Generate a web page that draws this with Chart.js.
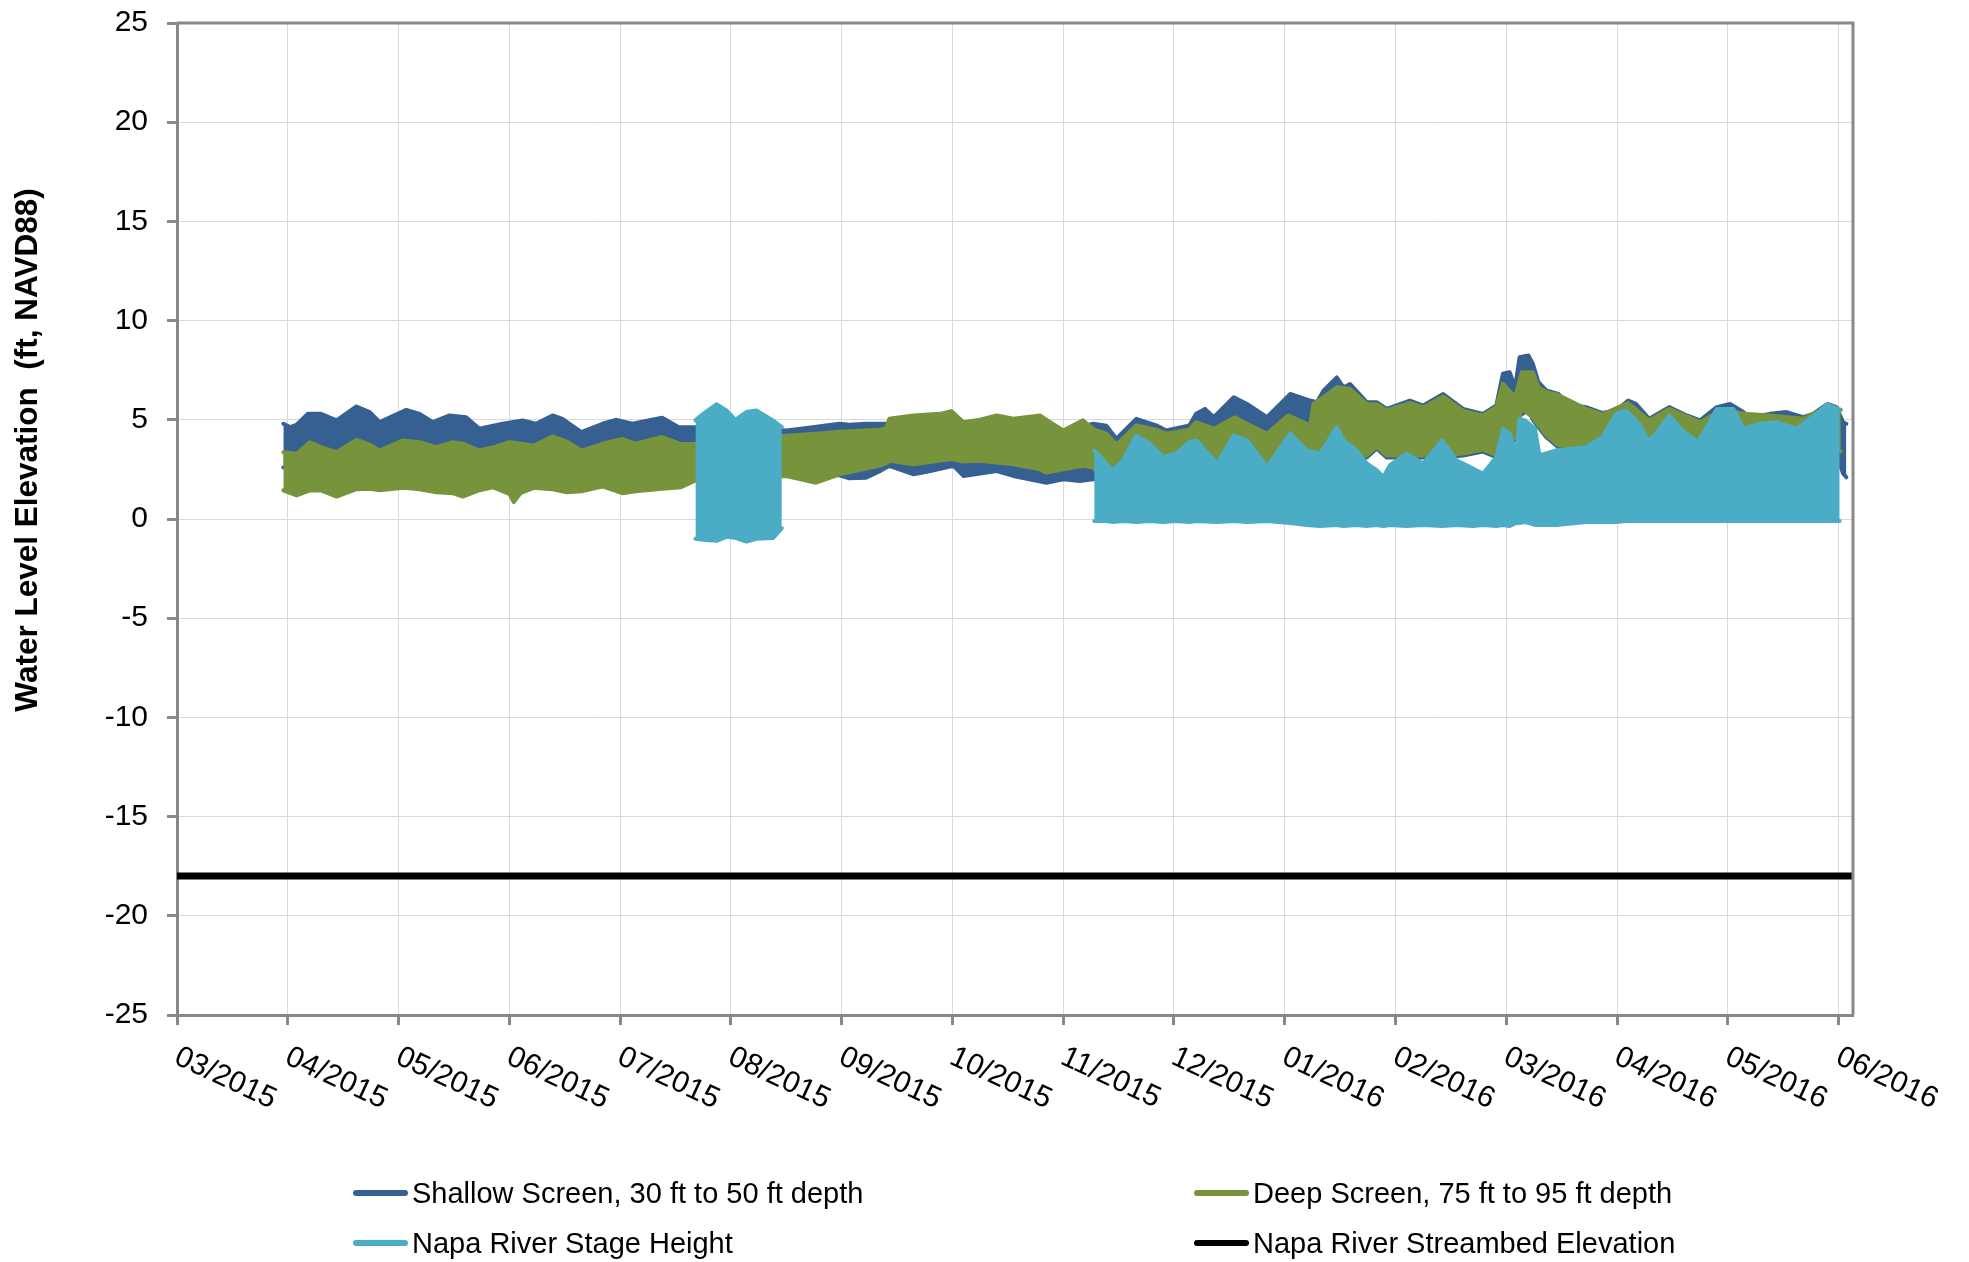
<!DOCTYPE html>
<html>
<head>
<meta charset="utf-8">
<script src="https://cdn.jsdelivr.net/npm/chart.js@4.4.0/dist/chart.umd.min.js"></script>
<style>
  body { margin: 0; background: #fff; }
  #wrap { position: relative; width: 1969px; height: 1262px; font-family: 'Liberation Sans', Arial, sans-serif; }
  .item { position: absolute; font-size: 29px; line-height: 34px; color: #000; white-space: nowrap; }
  .swatch { display: inline-block; width: 55px; height: 6px; border-radius: 3px; vertical-align: middle; margin-right: 4px; position: relative; top: -2px; }
</style>
</head>
<body>
<div id="wrap">
  <canvas id="chart"></canvas>
  <div id="legend"></div>
</div>
<script>
// x values are months counted from 03/2015 (0 = 03/2015, 15 = 06/2016)
const monthLabels = ['03/2015', '04/2015', '05/2015', '06/2015', '07/2015', '08/2015', '09/2015', '10/2015',
  '11/2015', '12/2015', '01/2016', '02/2016', '03/2016', '04/2016', '05/2016', '06/2016'];
const xMax = 15.13;
const yMin = -25, yMax = 25, yStep = 5;
const yTitle = 'Water Level Elevation  (ft, NAVD88)';

// Shallow screen: upper / lower edge of the tidal band
const shallowX = [
  0.96, 1.02, 1.08, 1.18, 1.30, 1.44, 1.62, 1.74, 1.83, 2.07,
  2.19, 2.31, 2.46, 2.61, 2.73, 2.94, 3.12, 3.24, 3.39, 3.48,
  3.65, 3.84, 3.96, 4.11, 4.38, 4.53, 4.68, 5.00, 5.50, 5.74,
  5.98, 6.07, 6.22, 6.34, 6.43, 6.65, 6.80, 7.01, 7.10, 7.40,
  7.55, 7.85, 8.00, 8.15, 8.27, 8.39, 8.48, 8.66, 8.84, 8.93,
  9.14, 9.20, 9.28, 9.36, 9.54, 9.66, 9.84, 10.05, 10.23, 10.29,
  10.35, 10.47, 10.53, 10.59, 10.74, 10.83, 10.92, 11.13, 11.25, 11.43,
  11.61, 11.79, 11.91, 11.97, 12.03, 12.08, 12.12, 12.20, 12.24, 12.29,
  12.36, 12.47, 12.54, 12.72, 12.87, 12.99, 13.10, 13.17, 13.29, 13.47,
  13.63, 13.75, 13.90, 14.02, 14.14, 14.20, 14.38, 14.53, 14.68, 14.77,
  14.90, 14.98, 15.04, 15.07];
const shallowHigh = [
  4.80, 4.63, 4.75, 5.30, 5.30, 4.97, 5.67, 5.39, 4.88, 5.50,
  5.30, 4.88, 5.22, 5.13, 4.55, 4.80, 4.97, 4.80, 5.22, 5.05,
  4.38, 4.80, 5.00, 4.80, 5.10, 4.63, 4.63, 4.60, 4.46, 4.63,
  4.80, 4.75, 4.80, 4.80, 4.80, 4.90, 4.90, 5.00, 4.70, 4.90,
  4.80, 4.70, 4.30, 4.60, 4.80, 4.70, 4.05, 5.05, 4.72, 4.46,
  4.72, 5.30, 5.55, 5.13, 6.14, 5.80, 5.13, 6.30, 5.97, 5.89,
  6.47, 7.14, 6.64, 6.80, 5.89, 5.89, 5.55, 5.97, 5.72, 6.30,
  5.55, 5.30, 5.72, 7.32, 7.40, 6.64, 8.15, 8.24, 7.82, 6.90,
  6.48, 6.31, 5.80, 5.64, 5.34, 5.47, 5.97, 5.80, 5.05, 5.64,
  5.22, 4.97, 5.64, 5.80, 5.39, 5.13, 5.30, 5.39, 5.13, 5.30,
  5.80, 5.64, 4.88, 4.80];
const shallowLow = [
  2.60, 2.60, 2.70, 2.80, 2.80, 2.60, 2.90, 2.90, 2.70, 2.90,
  2.90, 2.70, 2.90, 2.80, 2.60, 2.70, 2.80, 2.70, 3.00, 2.90,
  2.60, 2.80, 2.90, 2.80, 2.90, 2.70, 2.70, 2.60, 2.40, 2.20,
  2.20, 2.05, 2.08, 2.40, 2.68, 2.25, 2.42, 2.68, 2.17, 2.42,
  2.17, 1.83, 2.00, 1.92, 2.00, 2.30, 2.40, 2.50, 2.50, 2.50,
  2.50, 2.50, 2.50, 2.50, 2.50, 2.50, 2.50, 2.60, 2.60, 3.10,
  3.10, 3.20, 3.20, 3.20, 3.10, 3.55, 3.10, 3.10, 3.10, 3.10,
  3.20, 3.40, 3.12, 4.00, 4.20, 3.96, 5.20, 5.50, 5.00, 4.63,
  4.13, 3.62, 3.50, 3.46, 3.30, 3.30, 3.30, 3.30, 3.30, 3.30,
  3.30, 3.30, 3.30, 3.30, 3.30, 3.30, 3.30, 3.30, 3.30, 3.30,
  3.30, 3.30, 2.30, 2.10];

// Deep screen
const deepX = [
  0.96, 1.08, 1.20, 1.30, 1.44, 1.62, 1.74, 1.83, 2.04, 2.19,
  2.34, 2.49, 2.58, 2.73, 2.85, 3.00, 3.04, 3.10, 3.22, 3.39,
  3.52, 3.65, 3.84, 4.02, 4.14, 4.38, 4.55, 4.68, 5.00, 5.50,
  5.77, 5.98, 6.34, 6.40, 6.43, 6.65, 6.89, 6.99, 7.10, 7.25,
  7.40, 7.55, 7.79, 7.85, 8.00, 8.18, 8.27, 8.30, 8.39, 8.48,
  8.66, 8.84, 8.93, 9.14, 9.20, 9.36, 9.55, 9.66, 9.84, 10.03,
  10.23, 10.26, 10.35, 10.47, 10.59, 10.74, 10.83, 10.92, 11.13, 11.25,
  11.43, 11.61, 11.79, 11.91, 11.97, 12.08, 12.14, 12.24, 12.29, 12.36,
  12.47, 12.72, 12.87, 13.10, 13.29, 13.47, 13.75, 13.96, 14.14, 14.38,
  14.68, 14.92, 15.02];
const deepHigh = [
  3.37, 3.29, 3.87, 3.62, 3.37, 3.99, 3.75, 3.45, 3.96, 3.87,
  3.62, 3.87, 3.80, 3.45, 3.60, 3.87, 3.85, 3.80, 3.70, 4.16,
  3.90, 3.45, 3.79, 4.04, 3.79, 4.13, 3.78, 3.79, 4.00, 4.20,
  4.30, 4.40, 4.50, 4.55, 5.05, 5.22, 5.30, 5.44, 4.88, 5.00,
  5.22, 5.05, 5.22, 5.00, 4.46, 4.97, 4.54, 4.46, 4.30, 3.75,
  4.72, 4.50, 4.30, 4.50, 4.88, 4.55, 5.13, 4.80, 4.30, 5.22,
  4.72, 5.80, 6.14, 6.64, 6.55, 5.80, 5.78, 5.47, 5.85, 5.62,
  6.18, 5.45, 5.22, 5.64, 6.81, 6.14, 7.40, 7.40, 6.64, 6.40,
  6.25, 5.55, 5.27, 5.85, 4.97, 5.55, 4.88, 5.55, 5.30, 5.22,
  5.05, 5.72, 5.50];
const deepLow = [
  1.44, 1.19, 1.44, 1.44, 1.13, 1.50, 1.52, 1.45, 1.57, 1.50,
  1.35, 1.30, 1.13, 1.45, 1.60, 1.27, 0.85, 1.30, 1.57, 1.50,
  1.35, 1.40, 1.64, 1.30, 1.40, 1.52, 1.60, 1.94, 2.00, 2.17,
  1.83, 2.25, 2.68, 2.80, 2.93, 2.76, 2.95, 3.02, 2.90, 2.93,
  2.85, 2.76, 2.50, 2.34, 2.50, 2.68, 2.60, 2.40, 2.30, 2.30,
  2.30, 2.30, 2.30, 2.40, 2.40, 2.40, 2.40, 2.40, 2.40, 2.60,
  2.60, 3.20, 3.20, 3.30, 3.30, 3.20, 3.65, 3.20, 3.20, 3.20,
  3.20, 3.30, 3.50, 3.22, 4.10, 4.06, 5.60, 5.10, 4.73, 4.23,
  3.72, 3.56, 3.40, 3.40, 3.40, 3.40, 3.40, 3.40, 3.40, 3.40,
  3.40, 3.40, 3.40];

// Napa River stage, first record (Jul/Aug 2015)
const napaAugX = [4.68, 4.75, 4.87, 4.96, 5.04, 5.14, 5.23, 5.38, 5.46];
const napaAugHigh = [4.97, 5.30, 5.78, 5.47, 5.00, 5.39, 5.47, 4.97, 4.63];
const napaAugLow = [-1.00, -1.05, -1.10, -0.90, -0.95, -1.14, -1.00, -0.96, -0.46];

// Napa River stage, second record (Nov 2015 - Jun 2016)
const napaX = [
  8.28, 8.39, 8.45, 8.54, 8.66, 8.78, 8.90, 9.02, 9.14, 9.20,
  9.39, 9.54, 9.66, 9.84, 10.05, 10.20, 10.32, 10.47, 10.53, 10.65,
  10.74, 10.83, 10.89, 10.95, 11.10, 11.25, 11.42, 11.55, 11.70, 11.79,
  11.91, 11.97, 12.03, 12.09, 12.12, 12.17, 12.26, 12.30, 12.45, 12.72,
  12.87, 12.99, 13.08, 13.20, 13.28, 13.35, 13.47, 13.59, 13.73, 13.81,
  13.90, 14.05, 14.14, 14.29, 14.44, 14.62, 14.80, 14.90, 15.01];
const napaHigh = [
  3.44, 2.80, 2.46, 2.96, 4.21, 3.80, 3.13, 3.29, 3.88, 3.96,
  2.80, 4.21, 3.96, 2.63, 4.30, 3.46, 3.29, 4.63, 3.96, 3.46,
  2.80, 2.46, 2.12, 2.71, 3.29, 2.80, 3.96, 2.96, 2.54, 2.28,
  3.12, 4.55, 4.30, 3.29, 5.05, 4.97, 4.55, 3.20, 3.46, 3.62,
  4.13, 5.30, 5.47, 4.80, 3.96, 4.30, 5.22, 4.46, 3.88, 4.63,
  5.55, 5.55, 4.55, 4.80, 4.88, 4.55, 5.30, 5.80, 5.47];
const napaLow = [
  -0.10, -0.10, -0.15, -0.10, -0.15, -0.10, -0.15, -0.10, -0.15, -0.10,
  -0.15, -0.10, -0.15, -0.10, -0.20, -0.30, -0.35, -0.30, -0.35, -0.30,
  -0.35, -0.30, -0.35, -0.30, -0.35, -0.30, -0.35, -0.30, -0.35, -0.30,
  -0.35, -0.30, -0.35, -0.20, -0.20, -0.15, -0.30, -0.30, -0.30, -0.15,
  -0.15, -0.15, -0.10, -0.10, -0.10, -0.10, -0.10, -0.10, -0.10, -0.10,
  -0.10, -0.10, -0.10, -0.10, -0.10, -0.10, -0.10, -0.10, -0.10];

// Streambed elevation
const streambedX = [0, 15.13];
const streambedY = [-18, -18];

const colShallow = '#376092';
const colDeep = '#77933C';
const colNapa = '#4BACC6';
const colBed = '#000000';
const fontFamily = "'Liberation Sans', Arial, sans-serif";

const datasets = [];

// a band = lower edge line + upper edge line filled down to it
function addBand(label, xs, hi, lo, color, order) {
  const lowIndex = datasets.length;
  const common = {
    borderColor: color, backgroundColor: color, borderWidth: 4, pointRadius: 0,
    borderJoinStyle: 'round', borderCapStyle: 'round', tension: 0, order: order
  };
  datasets.push(Object.assign({ label: label + ' low', data: xs.map((x, i) => ({ x: x, y: lo[i] })), fill: false }, common));
  datasets.push(Object.assign({ label: label, data: xs.map((x, i) => ({ x: x, y: hi[i] })), fill: { target: lowIndex } }, common));
}

addBand('Shallow Screen, 30 ft to 50 ft depth', shallowX, shallowHigh, shallowLow, colShallow, 4);
addBand('Deep Screen, 75 ft to 95 ft depth', deepX, deepHigh, deepLow, colDeep, 3);
addBand('Napa River Stage Height', napaAugX, napaAugHigh, napaAugLow, colNapa, 2);
addBand('Napa River Stage Height', napaX, napaHigh, napaLow, colNapa, 2);
datasets.push({
  label: 'Napa River Streambed Elevation',
  data: streambedX.map((x, i) => ({ x: x, y: streambedY[i] })),
  borderColor: colBed, borderWidth: 7, pointRadius: 0, fill: false, order: 1
});

// month labels slanted downwards, y title, and the gray frame on top / right
const framePlugin = {
  id: 'frameAndMonths',
  afterDraw(chart) {
    const ctx = chart.ctx;
    const area = chart.chartArea;
    const xs = chart.scales.x;
    ctx.save();
    ctx.strokeStyle = '#888888';
    ctx.lineWidth = 3;
    ctx.beginPath();
    ctx.moveTo(area.left, area.top);
    ctx.lineTo(area.right, area.top);
    ctx.lineTo(area.right, area.bottom);
    ctx.stroke();

    ctx.font = '30px ' + fontFamily;
    ctx.fillStyle = '#000';
    ctx.textAlign = 'left';
    ctx.textBaseline = 'alphabetic';
    monthLabels.forEach((lab, i) => {
      const px = xs.getPixelForValue(i);
      ctx.save();
      ctx.translate(px + 5, area.bottom + 28);
      ctx.rotate(25 * Math.PI / 180);
      ctx.fillText(lab, 0, 22);
      ctx.restore();
    });

    ctx.save();
    ctx.font = 'bold 31.5px ' + fontFamily;
    ctx.textAlign = 'center';
    ctx.textBaseline = 'middle';
    ctx.translate(28, 450);
    ctx.rotate(-Math.PI / 2);
    ctx.fillText(yTitle, 0, 0);
    ctx.restore();
    ctx.restore();
  }
};

new Chart(document.getElementById('chart'), {
  type: 'line',
  data: { datasets: datasets },
  options: {
    responsive: true,
    maintainAspectRatio: false,
    animation: false,
    events: [],
    layout: { padding: { left: 0, top: 23, right: 116, bottom: 0 } },
    plugins: {
      legend: { display: false },
      tooltip: { enabled: false },
      filler: { propagate: false }
    },
    scales: {
      x: {
        type: 'linear',
        min: 0,
        max: xMax,
        ticks: { stepSize: 1, display: false, includeBounds: false },
        grid: { color: '#d9d9d9', lineWidth: 1, tickColor: '#888888', tickLength: 10, tickWidth: 3 },
        border: { color: '#888888', width: 3 },
        afterFit(scale) {
          scale.height = 247;
          scale.paddingLeft = 0;
          scale.paddingRight = 0;
        }
      },
      y: {
        min: yMin,
        max: yMax,
        ticks: { stepSize: yStep, color: '#000', padding: 19, font: { size: 30, family: fontFamily } },
        grid: { color: '#d9d9d9', lineWidth: 1, tickColor: '#888888', tickLength: 10, tickWidth: 3 },
        border: { color: '#888888', width: 3 },
        afterFit(scale) {
          scale.width = 177;
          scale.paddingTop = 0;
          scale.paddingBottom = 0;
        }
      }
    }
  },
  plugins: [framePlugin]
});

// legend, two columns as in the original
const legendItems = [
  { text: 'Shallow Screen, 30 ft to 50 ft depth', color: colShallow, left: 353, top: 1176 },
  { text: 'Deep Screen, 75 ft to 95 ft depth', color: colDeep, left: 1194, top: 1176 },
  { text: 'Napa River Stage Height', color: colNapa, left: 353, top: 1226 },
  { text: 'Napa River Streambed Elevation', color: colBed, left: 1194, top: 1226 }
];
const legend = document.getElementById('legend');
legendItems.forEach(it => {
  const d = document.createElement('div');
  d.className = 'item';
  d.style.left = it.left + 'px';
  d.style.top = it.top + 'px';
  const sw = document.createElement('span');
  sw.className = 'swatch';
  sw.style.background = it.color;
  d.appendChild(sw);
  d.appendChild(document.createTextNode(it.text));
  legend.appendChild(d);
});
</script>
</body>
</html>
